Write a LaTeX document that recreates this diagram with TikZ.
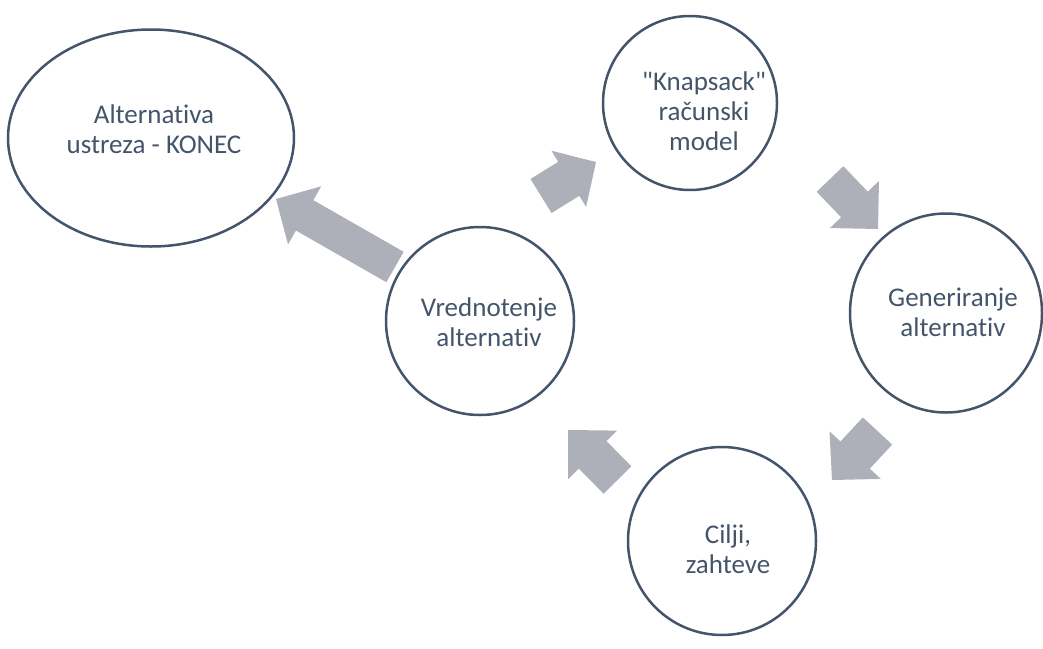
\documentclass[tikz,border=0pt]{standalone}
\usepackage{fontspec}
\setmainfont{Carlito}[Ligatures={NoCommon}]
\usetikzlibrary{calc,shapes.geometric}
\definecolor{linec}{HTML}{44546A}
\definecolor{arrc}{HTML}{ADB0B8}
% block arrow: #1 tail, #2 tip, #3 half shaft width, #4 half head width, #5 head length
\newcommand\blockarr[5]{%
  \coordinate (#1-h) at ($(#2)!#5!(#1)$);
  \fill[arrc] ($(#1)!#3!90:(#2)$) -- ($(#1-h)!#3!90:(#2)$) -- ($(#1-h)!#4!90:(#2)$) -- (#2)
    -- ($(#1-h)!#4!-90:(#2)$) -- ($(#1-h)!#3!-90:(#2)$) -- ($(#1)!#3!-90:(#2)$) -- cycle;
}
\begin{document}
\begin{tikzpicture}[x=1pt,y=-1pt,
  shp/.style={draw=linec, line width=2.5pt, inner sep=0pt},
  circ/.style={shp, circle},
  ell/.style={shp, ellipse},
  txt/.style={text=linec, align=center, inner sep=0pt, font=\fontsize{27}{30}\selectfont}]
\useasboundingbox (0,0) rectangle (1043,648);
% shapes
\node[ell, minimum width=286pt, minimum height=217pt] (konec) at (151,138) {};
\node[circ, minimum size=174pt] (knap) at (690,103) {};
\node[ell, minimum width=192pt, minimum height=199pt] (gen) at (946,313) {};
\node[circ, minimum size=188pt] (cilji) at (722,541) {};
\node[circ, minimum size=188pt] (vred) at (480,321) {};
% texts
\node[txt] (konect) at (154,129) {Alternativa\\ustreza - KONEC};
\node[txt] (knapt) at (704,111) {\textquotedbl Knapsack\textquotedbl\\računski\\model};
\node[txt] (gent) at (953,312) {Generiranje\\alternativ};
\node[txt] (cilt) at (728,549) {Cilji,\\zahteve};
\node[txt] (vredt) at (489,322) {Vrednotenje\\alternativ};
% arrows
\coordinate (a1t) at (395,267); \coordinate (a1p) at (276,199);
\coordinate (a2t) at (541,196); \coordinate (a2p) at (596,162);
\coordinate (a3t) at (830,179); \coordinate (a3p) at (878,229);
\coordinate (a4t) at (877.5,431); \coordinate (a4p) at (832,480);
\coordinate (a5t) at (617.5,480); \coordinate (a5p) at (568,430);
\blockarr{a1t}{a1p}{17.5pt}{33.5pt}{33pt}
\blockarr{a2t}{a2p}{20pt}{33pt}{32pt}
\blockarr{a3t}{a3p}{18.5pt}{34pt}{34pt}
\blockarr{a4t}{a4p}{20pt}{35pt}{34pt}
\blockarr{a5t}{a5p}{19.5pt}{34.5pt}{35pt}
\end{tikzpicture}
\end{document}
